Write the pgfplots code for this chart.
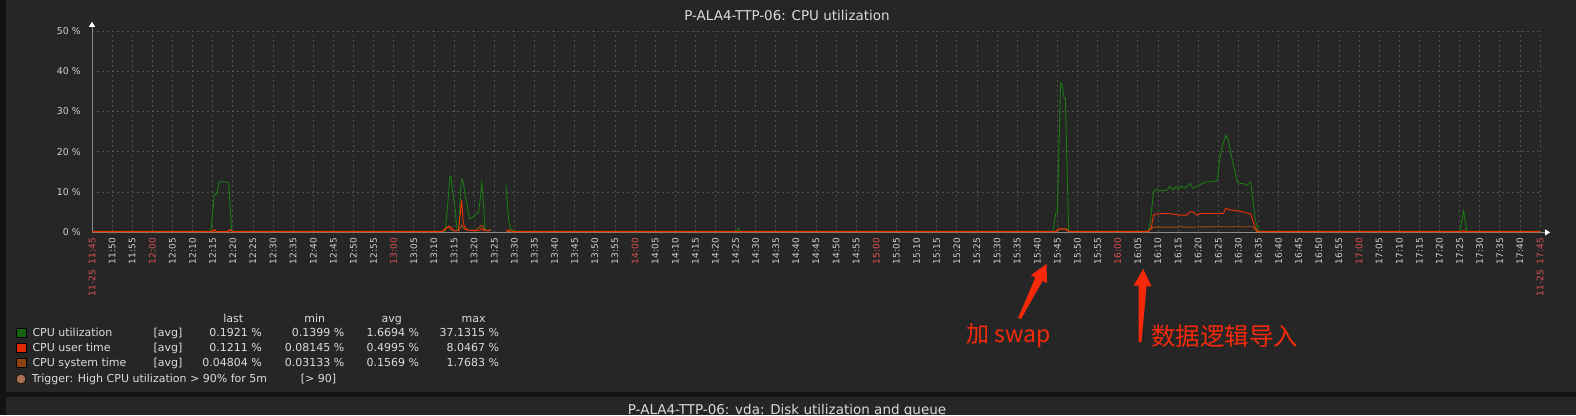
\documentclass[border=0pt]{standalone}
\usepackage{pgfplots}
\pgfplotsset{compat=1.18}
\usepackage{fontspec}
\setmainfont{DejaVu Sans}
\newfontfamily\cjk{Noto Sans CJK SC}
\usetikzlibrary{arrows.meta}
\definecolor{bg}{HTML}{262626}
\definecolor{strip}{HTML}{121212}
\definecolor{gridc}{HTML}{505050}
\definecolor{tickc}{HTML}{D0D0D0}
\definecolor{textc}{HTML}{DCDCDC}
\definecolor{hourred}{HTML}{E05050}
\definecolor{cgreen}{HTML}{1A7C11}
\definecolor{cred}{HTML}{F63100}
\definecolor{cbrown}{HTML}{A54F10}
\definecolor{annot}{HTML}{F62A0A}
\definecolor{axisg}{HTML}{8A8A8A}
\definecolor{trig}{HTML}{AA6E50}
\newcommand\hr[1]{\textcolor{hourred}{#1}}
\begin{document}
\begin{tikzpicture}
\useasboundingbox (0,0) rectangle (1576pt,-415pt);
\clip (0,0) rectangle (1576pt,-415pt);
\fill[bg] (0,0) rectangle (1576pt,-415pt);
\fill[strip] (0,0) rectangle (5.5pt,-415pt);
\fill[strip] (0,-391.5pt) rectangle (1576pt,-397pt);
\begin{axis}[
  at={(92pt,-232pt)}, anchor=south west,
  scale only axis, width=1448pt, height=201pt,
  xmin=0, xmax=360, ymin=0, ymax=50,
  clip=false,
  axis line style={draw=none},
  major tick length=0pt,
  tick style={draw=none},
  xtick={0,5,...,360},
  xticklabels={\hr{11-25\ \ 11:45},11:50,11:55,\hr{12:00},12:05,12:10,12:15,12:20,12:25,12:30,12:35,12:40,12:45,12:50,12:55,\hr{13:00},13:05,13:10,13:15,13:20,13:25,13:30,13:35,13:40,13:45,13:50,13:55,\hr{14:00},14:05,14:10,14:15,14:20,14:25,14:30,14:35,14:40,14:45,14:50,14:55,\hr{15:00},15:05,15:10,15:15,15:20,15:25,15:30,15:35,15:40,15:45,15:50,15:55,\hr{16:00},16:05,16:10,16:15,16:20,16:25,16:30,16:35,16:40,16:45,16:50,16:55,\hr{17:00},17:05,17:10,17:15,17:20,17:25,17:30,17:35,17:40,\hr{11-25\ \ 17:45}},
  ytick={0,10,...,50},
  yticklabels={0 \%,10 \%,20 \%,30 \%,40 \%,50 \%},
  grid=major,
  major grid style={gridc, dash pattern=on 2pt off 3pt, line width=0.6pt},
  xticklabel style={rotate=90, anchor=east, font=\fontsize{9}{9}\selectfont, text=tickc, inner sep=0pt},
  yticklabel style={anchor=east, font=\fontsize{9.4}{9.4}\selectfont, text=tickc, inner sep=0pt},
  xticklabel shift=6pt,
  yticklabel shift=11pt,
  unbounded coords=jump,
]
\draw[axisg, line width=0.8pt, -{Triangle[width=6pt,length=5pt,color=white]}] (axis cs:0,0) -- (axis cs:0,52.3);
\draw[axisg, line width=0.8pt, -{Triangle[width=6pt,length=5pt,color=white]}] (axis cs:0,-0.1) -- (axis cs:362.5,-0.1);
\addplot[cgreen, line width=0.9pt] coordinates {
(0,0.2) (29.6,0.2) (30.4,9.3) (31.0,9.5) (31.6,12.5) (33.7,12.4) (34.0,12.1) (34.7,0.5) (35.3,0.2)
(87.8,0.2) (88.4,6.5) (89.0,13.9) (89.3,13.6) (89.7,9.6) (90.3,5.5) (90.8,0.3) (91.2,0.4) (91.6,10.0) (91.9,13.1) (92.3,12.5) (92.8,9.0) (93.2,7.1) (93.8,3.4) (94.4,3.5) (95.2,4.2) (96.1,5.0) (96.5,8.0) (96.9,12.1) (97.1,10.4) (97.7,0.5) (98.4,0.3) (99.1,0.5) (99.2,nan)
(102.9,11.7) (103.6,3.0) (104.0,0.9) (104.5,0.4) (105.5,0.2) (160.2,0.2) (160.7,0.9) (161.2,0.2)
(238.9,0.2) (239.6,4.6) (240.0,4.8) (240.8,37.1) (241.2,36.6) (241.7,33.3) (242.0,33.3) (242.8,0.2)
(262.6,0.2) (263.2,3.0) (263.9,10.0) (264.7,10.6) (265.5,10.3) (267.2,10.4) (268.0,11.3) (268.7,10.4) (269.5,11.3) (270.1,10.6) (270.9,11.4) (271.7,10.9) (273.0,12.1) (273.6,10.9) (274.6,11.3) (275.9,12.0) (277.1,12.5) (278.8,12.5) (279.8,12.9) (280.3,17.9) (281.1,21.6) (281.9,24.1) (282.5,22.9) (283.1,19.6) (283.9,16.2) (284.6,12.9) (285.0,11.9) (285.8,12.1) (286.7,11.9) (287.2,11.6) (288.1,12.5) (288.6,8.0) (289.2,3.0) (290.0,0.3) (290.6,0.2)
(340.1,0.2) (341.0,5.2) (341.8,0.2) (360,0.2)
};
\addplot[cbrown, line width=0.9pt] coordinates {
(0,0.05) (87.0,0.05) (88.0,1.0) (88.5,1.3) (89.5,0.5) (90.5,0.3) (91.3,0.5) (91.9,1.7) (92.5,0.8) (93.5,0.4) (95.5,0.5) (96.9,1.7) (97.7,0.6) (98.5,0.3) (99.1,0.7) (99.2,nan)
(102.9,0.2) (104.5,0.05) (240.0,0.05) (240.5,0.8) (242.3,0.8) (242.8,0.05)
(262.6,0.05) (263.7,1.2) (270.0,1.2) (270.8,1.4) (271.5,1.2) (278.8,1.3) (288.6,1.3) (289.6,0.1) (290.5,0.05) (360,0.05)
};
\addplot[cred, line width=0.9pt] coordinates {
(0,0.12) (29.8,0.12) (30.4,0.6) (31.0,0.12) (33.6,0.12) (34.2,0.6) (34.9,0.12)
(87.2,0.12) (88.0,0.8) (88.8,1.5) (89.3,1.2) (89.9,0.3) (91.1,0.3) (91.5,4.0) (91.9,8.0) (92.3,2.2) (92.8,1.0) (93.5,0.4) (96.3,0.3) (96.9,0.9) (97.6,0.3) (99.1,0.3) (99.2,nan)
(102.9,0.5) (104.0,0.3) (105.0,0.12) (239.5,0.12) (240.2,0.7) (242.0,0.7) (242.8,0.12)
(262.6,0.12) (263.4,1.3) (263.9,4.2) (264.7,4.5) (266.3,4.6) (268.5,4.5) (270.4,4.2) (272.1,4.2) (273.0,5.0) (273.8,5.0) (274.6,4.2) (275.5,4.6) (281.3,4.6) (281.9,5.9) (282.9,5.5) (284.6,5.3) (286.2,5.0) (287.5,4.6) (288.1,4.5) (288.8,2.2) (289.6,0.3) (290.4,0.12)
(340.5,0.12) (341.0,0.4) (341.5,0.12) (360,0.12)
};
\end{axis}
\begin{scope}[x=1pt,y=-1pt]
\node[anchor=base, inner sep=0pt, text=textc, font=\fontsize{13.5}{13.5}\selectfont] at (787,20) {P-ALA4-TTP-06: CPU utilization};
\node[anchor=base, inner sep=0pt, text=textc, font=\fontsize{13.5}{13.5}\selectfont] at (787,414.5) {P-ALA4-TTP-06: vda: Disk utilization and queue};
% legend
\begin{scope}[every node/.style={inner sep=0pt, text=textc, font=\fontsize{11}{11}\selectfont}]
\node[anchor=base] at (233.3,322) {last};
\node[anchor=base] at (314.7,322) {min};
\node[anchor=base] at (391.8,322) {avg};
\node[anchor=base] at (473.6,322) {max};
\fill[cgreen!80!black, draw=black, line width=0.5pt] (16.5,328.3) rectangle (26,337.3);
\fill[cred!90!black, draw=black, line width=0.5pt] (16.5,343.3) rectangle (26,352.3);
\fill[cbrown!85!black, draw=black, line width=0.5pt] (16.5,358.3) rectangle (26,367.3);
\fill[trig, draw=black, line width=0.5pt] (21,379) circle (4.9);
\node[anchor=base west] at (32.3,336.7) {CPU utilization};
\node[anchor=base west] at (32.3,351.7) {CPU user time};
\node[anchor=base west] at (32.3,366.7) {CPU system time};
\node[anchor=base west] at (153.3,336.7) {[avg]};
\node[anchor=base west] at (153.3,351.7) {[avg]};
\node[anchor=base west] at (153.3,366.7) {[avg]};
\node[anchor=base east] at (262,336.7) {0.1921 \%};
\node[anchor=base east] at (344.5,336.7) {0.1399 \%};
\node[anchor=base east] at (419.2,336.7) {1.6694 \%};
\node[anchor=base east] at (499.2,336.7) {37.1315 \%};
\node[anchor=base east] at (262,351.7) {0.1211 \%};
\node[anchor=base east] at (344.5,351.7) {0.08145 \%};
\node[anchor=base east] at (419.2,351.7) {0.4995 \%};
\node[anchor=base east] at (499.2,351.7) {8.0467 \%};
\node[anchor=base east] at (262,366.7) {0.04804 \%};
\node[anchor=base east] at (344.5,366.7) {0.03133 \%};
\node[anchor=base east] at (419.2,366.7) {0.1569 \%};
\node[anchor=base east] at (499.2,366.7) {1.7683 \%};
\node[anchor=base west] at (31.6,382.7) {Trigger: High CPU utilization > 90\% for 5m};
\node[anchor=base west] at (300.6,382.7) {[> 90]};
\end{scope}
% annotations
\fill[annot] (1018.16,317.83) -- (1035.37,277.45) -- (1030.89,275.24) -- (1046.5,264) -- (1047.01,283.23) -- (1042.53,281.01) -- (1020.84,319.17) -- cycle;
\fill[annot] (1138.5,341.93) -- (1138.53,285.80) -- (1133.54,285.57) -- (1143.3,269) -- (1151.52,286.39) -- (1146.53,286.16) -- (1141.5,342.07) -- cycle;
\node[anchor=base west, inner sep=0pt, text=annot, font=\cjk\fontsize{23}{23}\selectfont] at (966,342) {加 swap};
\node[anchor=base west, inner sep=0pt, text=annot, font=\cjk\fontsize{24.5}{24.5}\selectfont] at (1151,345) {数据逻辑导入};
\end{scope}
\end{tikzpicture}
\end{document}
